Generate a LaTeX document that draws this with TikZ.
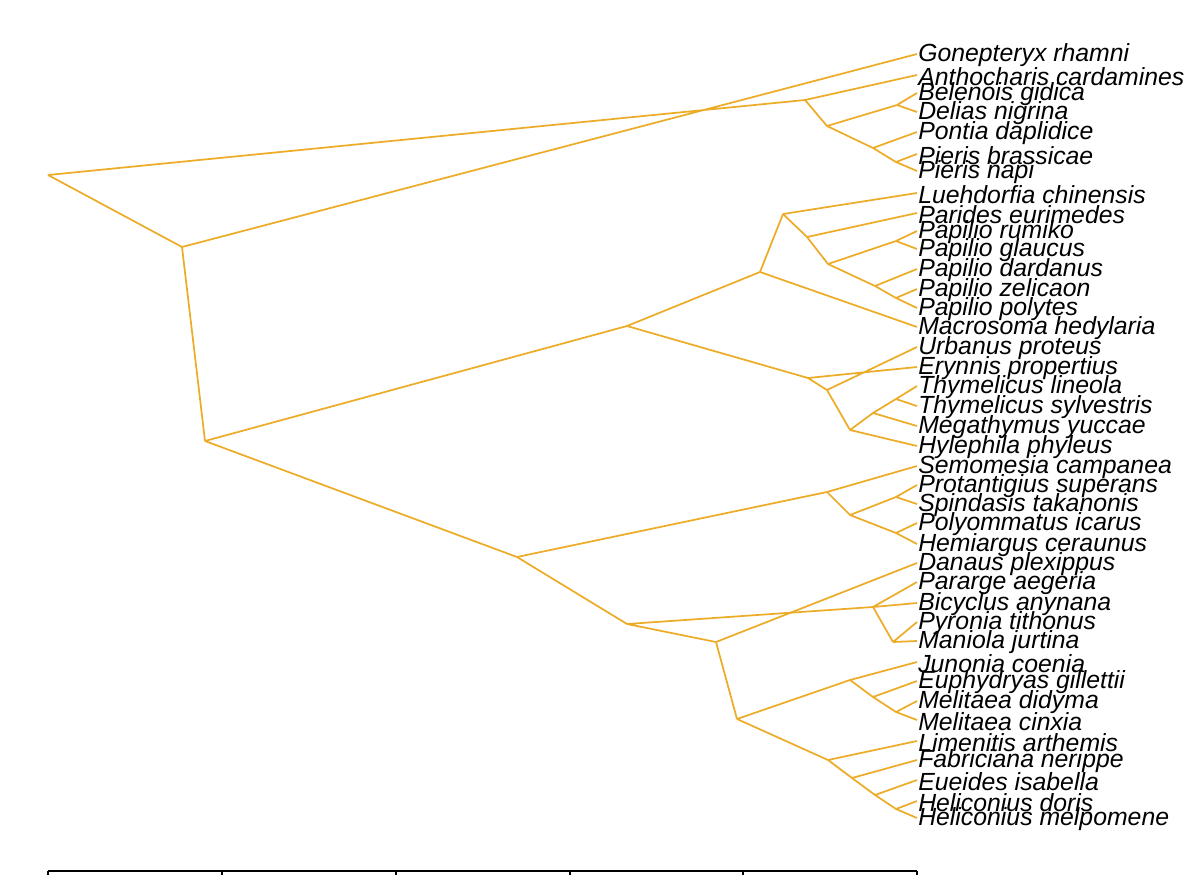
\documentclass[tikz,border=0pt]{standalone}
\usepackage{fontspec}
\setmainfont{Liberation Sans}
\begin{document}
\begin{tikzpicture}[x=0.75pt,y=-0.75pt,
  br/.style={draw={rgb,255:red,236;green,172;blue,40},line width=1.3pt,line join=round},
  lab/.style={anchor=west,inner sep=0pt,font=\fontsize{18.6}{19}\selectfont\itshape},
  ax/.style={draw=black,line width=1pt}]
\useasboundingbox (0,0) rectangle (1200,875);
% leaves
\foreach \n/\y/\t in {
 1/54/Gonepteryx rhamni, 2/75/Anthocharis cardamines, 3/93/Belenois gidica, 4/112/Delias nigrina,
 5/132/Pontia daplidice, 6/154/Pieris brassicae, 7/171/Pieris napi, 8/193/Luehdorfia chinensis,
 9/213/Parides eurimedes, 10/231/Papilio rumiko, 11/249/Papilio glaucus, 12/269/Papilio dardanus,
 13/289/Papilio zelicaon, 14/308/Papilio polytes, 15/327/Macrosoma hedylaria, 16/347/Urbanus proteus,
 17/367/Erynnis propertius, 18/386/Thymelicus lineola, 19/406/Thymelicus sylvestris, 20/426/Megathymus yuccae,
 21/446/Hylephila phyleus, 22/466/Semomesia campanea, 23/485/Protantigius superans, 24/504/Spindasis takanonis,
 25/523/Polyommatus icarus, 26/544/Hemiargus ceraunus, 27/563/Danaus plexippus, 28/582/Pararge aegeria,
 29/603/Bicyclus anynana, 30/622/Pyronia tithonus, 31/641/Maniola jurtina, 32/662/Junonia coenia,
 33/681/Euphydryas gillettii, 34/701/Melitaea didyma, 35/720/Melitaea cinxia, 36/741/Limenitis arthemis,
 37/760/Fabriciana nerippe, 38/780/Eueides isabella, 39/801/Heliconius doris, 40/818/Heliconius melpomene}
 {\coordinate (l\n) at (917,\y); \node[lab] (t\n) at (918,\y+1.5) {\t};}
% internal nodes
\coordinate (root) at (48,175);
\coordinate (A) at (805,100); \coordinate (B) at (182,247); \coordinate (C) at (205,441);
\coordinate (D) at (827,126); \coordinate (E) at (897,105); \coordinate (F) at (873,148); \coordinate (G) at (896,162);
\coordinate (H) at (627,326); \coordinate (I) at (517,557);
\coordinate (J) at (760,272); \coordinate (L) at (783,214); \coordinate (N) at (807,237); \coordinate (M) at (828,264);
\coordinate (O) at (896,241); \coordinate (P) at (875,286); \coordinate (Q) at (896,298);
\coordinate (K) at (808,378); \coordinate (K2) at (827,390); \coordinate (R) at (850,430); \coordinate (S) at (873,413); \coordinate (T) at (896,399);
\coordinate (U) at (827,492); \coordinate (V) at (850,515); \coordinate (W) at (896,497); \coordinate (X) at (896,533);
\coordinate (Y) at (627,624); \coordinate (Z) at (716,642); \coordinate (AA) at (873,607); \coordinate (BB) at (893,642);
\coordinate (CC) at (737,719); \coordinate (DD) at (850,680); \coordinate (EE) at (873,697); \coordinate (FF) at (896,712);
\coordinate (GG) at (828,760); \coordinate (HH) at (852,778); \coordinate (II) at (875,795); \coordinate (JJ) at (896,809);
% edges
\draw[br] (root)--(A) (root)--(B) (B)--(l1) (B)--(C);
\draw[br] (A)--(l2) (A)--(D) (D)--(E) (E)--(l3) (E)--(l4) (D)--(F) (F)--(l5) (F)--(G) (G)--(l6) (G)--(l7);
\draw[br] (C)--(H) (C)--(I) (H)--(J) (H)--(K);
\draw[br] (J)--(L) (J)--(l15) (L)--(l8) (L)--(N) (N)--(l9) (N)--(M) (M)--(O) (O)--(l10) (O)--(l11)
  (M)--(P) (P)--(l12) (P)--(Q) (Q)--(l13) (Q)--(l14);
\draw[br] (K)--(l17) (K)--(K2) (K2)--(l16) (K2)--(R) (R)--(l21) (R)--(S) (S)--(l20) (S)--(T) (T)--(l18) (T)--(l19);
\draw[br] (I)--(U) (U)--(l22) (U)--(V) (V)--(W) (W)--(l23) (W)--(l24) (V)--(X) (X)--(l25) (X)--(l26);
\draw[br] (I)--(Y) (Y)--(AA) (Y)--(Z) (AA)--(l28) (AA)--(l29) (AA)--(BB) (BB)--(l30) (BB)--(l31);
\draw[br] (Z)--(l27) (Z)--(CC) (CC)--(DD) (DD)--(l32) (DD)--(EE) (EE)--(l33) (EE)--(FF) (FF)--(l34) (FF)--(l35);
\draw[br] (CC)--(GG) (GG)--(l36) (GG)--(HH) (HH)--(l37) (HH)--(II) (II)--(l38) (II)--(JJ) (JJ)--(l39) (JJ)--(l40);
% axis
\coordinate (a0) at (48,871); \coordinate (a5) at (917,871);
\draw[ax] (a0)--(a5);
\foreach \x in {48,222,396,570,743,917} \draw[ax] (\x,871)--(\x,876);
\end{tikzpicture}
\end{document}
